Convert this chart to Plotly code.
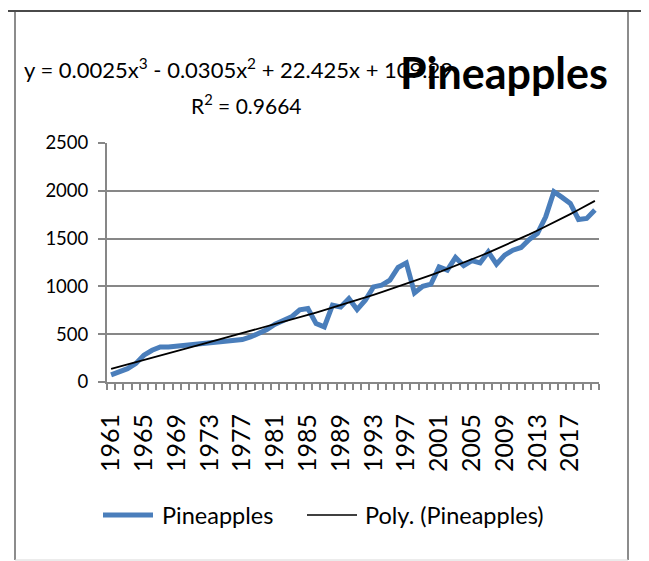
import numpy as np
import plotly.graph_objects as go

years = list(range(1961, 2021))
pineapples = [75, 105, 140, 192, 280, 332, 367, 367, 377, 384,
              395, 402, 412, 419, 430, 437, 444, 471, 507, 549,
              604, 640, 681, 755, 768, 611, 576, 803, 785, 873,
              758, 855, 995, 1013, 1065, 1198, 1246, 932, 1002, 1023,
              1204, 1170, 1303, 1217, 1270, 1246, 1361, 1232, 1327, 1379,
              1407, 1491, 1554, 1728, 1990, 1931, 1868, 1700, 1711, 1798]
tick_labels = [str(y) for y in range(1961, 2020, 4)]
title_text = "Pineapples"
equation_text = "y = 0.0025x<sup>3</sup> - 0.0305x<sup>2</sup> + 22.425x + 109.29"
r2_text = "R<sup>2</sup> = 0.9664"

# Excel-style cubic polynomial trendline (x = 1..n)
xi = np.arange(1, len(pineapples) + 1)
coef = np.polyfit(xi, pineapples, 3)
trend = np.polyval(coef, xi)

FONT = "Lato"
OFF = 8  # page body margin
W, H = 649, 561
L = 107 - OFF
T = 143 - OFF
R = W - (599 - OFF)
B = H - (382 - OFF)
PW, PH = W - L - R, H - T - B


def px(x):
    return (x - OFF - L) / PW


def py(y):
    return (H - B - (y - OFF)) / PH


fig = go.Figure()
fig.add_trace(go.Scatter(x=years, y=pineapples, mode="lines", name="Pineapples",
                         line=dict(color="#4A7EBB", width=5)))
fig.add_trace(go.Scatter(x=years, y=trend, mode="lines", name="Poly. (Pineapples)",
                         line=dict(color="#000000", width=1.8)))

grid = "#878787"
fig.update_layout(
    width=W, height=H,
    margin=dict(l=L, r=R, t=T, b=B, autoexpand=False),
    paper_bgcolor="white", plot_bgcolor="white",
    showlegend=False,
    font=dict(family=FONT, size=18, color="#000000"),
    xaxis=dict(range=[1960.5, 2020.5], tickvals=[int(t) for t in tick_labels],
               ticktext=tick_labels, tickangle=-90, ticks="", showgrid=False,
               showline=True, linecolor=grid, linewidth=2, zeroline=False,
               ticklabelstandoff=20,
               tickfont=dict(family=FONT, size=25),
               minor=dict(tick0=1960.5, dtick=1, ticks="outside", ticklen=6,
                          tickcolor=grid, tickwidth=1.5, showgrid=False)),
    yaxis=dict(range=[0, 2500], tickvals=[0, 500, 1000, 1500, 2000, 2500],
               ticks="outside", ticklen=7, tickcolor=grid, tickwidth=1.5,
               showgrid=True, gridcolor=grid, gridwidth=1.5,
               showline=True, linecolor=grid, linewidth=2, zeroline=False,
               ticklabelstandoff=6,
               tickfont=dict(family=FONT, size=18.5)),
)

shapes = [
    dict(type="line", xref="paper", yref="paper", x0=px(0), x1=px(W + 10), y0=py(11), y1=py(11),
         line=dict(color="#4a4a4a", width=2)),
    dict(type="line", xref="paper", yref="paper", x0=px(15), x1=px(15), y0=py(12), y1=py(560),
         line=dict(color="#8c8c8c", width=2)),
    dict(type="line", xref="paper", yref="paper", x0=px(628), x1=px(628), y0=py(12), y1=py(560),
         line=dict(color="#8c8c8c", width=2)),
    dict(type="line", xref="paper", yref="paper", x0=px(15), x1=px(628), y0=py(560), y1=py(560),
         line=dict(color="#d8d8d8", width=1)),
    dict(type="line", xref="paper", yref="paper", x0=px(103), x1=px(153), y0=py(515), y1=py(515),
         line=dict(color="#4A7EBB", width=5)),
    dict(type="line", xref="paper", yref="paper", x0=px(307), x1=px(357), y0=py(515), y1=py(515),
         line=dict(color="#000000", width=1.5)),
]
fig.update_layout(shapes=shapes)

ann = [
    dict(text=equation_text, x=px(22), y=py(68), xanchor="left", yanchor="middle",
         font=dict(family=FONT, size=22)),
    dict(text=r2_text, x=px(246), y=py(104), xanchor="center", yanchor="middle",
         font=dict(family=FONT, size=21)),
    dict(text="Pineapples", x=px(160), y=py(515), xanchor="left", yanchor="middle",
         font=dict(family=FONT, size=23.5)),
    dict(text="Poly. (Pineapples)", x=px(363), y=py(515), xanchor="left", yanchor="middle",
         font=dict(family=FONT, size=23.5)),
    dict(text="<b>" + title_text + "</b>", x=px(398), y=py(72), xanchor="left", yanchor="middle",
         font=dict(family=FONT, size=43)),
]
for a in ann:
    a.update(xref="paper", yref="paper", showarrow=False)
fig.update_layout(annotations=ann)

fig.write_html("out.html")
